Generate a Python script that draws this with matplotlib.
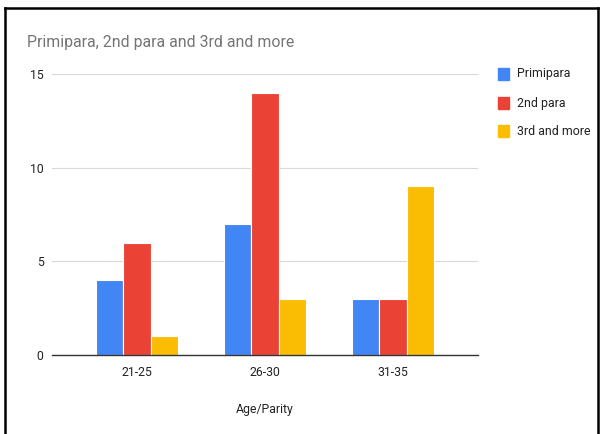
import matplotlib
matplotlib.use("Agg")
import matplotlib.pyplot as plt
from matplotlib.lines import Line2D
import numpy as np

categories = ["21-25", "26-30", "31-35"]
primipara = [4, 7, 3]
second_para = [6, 14, 3]
third_more = [1, 3, 9]
series_names = ["Primipara", "2nd para", "3rd and more"]
colors = ["#4285F4", "#EA4335", "#FBBC04"]
yticks = [0, 5, 10, 15]

plt.rcParams['font.family'] = ['Roboto', 'DejaVu Sans']

W, H = 603, 434
fig = plt.figure(figsize=(W / 100, H / 100), dpi=100)
ax = fig.add_axes([52 / W, 1 - 355 / H, (478 - 52) / W, (355 - 74) / H])

x = np.arange(len(categories))
bw = 0.212
for i, (vals, c) in enumerate(zip([primipara, second_para, third_more], colors)):
    ax.bar(x + (i - 1) * bw, vals, width=bw, color=c, edgecolor="white", linewidth=0.8, zorder=3)

ax.set_xlim(-0.664, 2.664)
ax.set_ylim(0, 15)
ax.set_yticks(yticks)
ax.set_yticklabels([str(t) for t in yticks])
ax.set_xticks(x)
ax.set_xticklabels(categories)
ax.tick_params(axis="both", length=0, labelsize=8.8, colors="#222222")
ax.tick_params(axis="y", pad=6)
ax.tick_params(axis="x", pad=8)
ax.grid(axis="y", color="#d9d9d9", linewidth=0.8, zorder=0)
for s in ["top", "right", "left"]:
    ax.spines[s].set_visible(False)
ax.spines["bottom"].set_color("#333333")
ax.spines["bottom"].set_linewidth(1.0)
ax.spines["bottom"].set_zorder(4)
ax.set_xlabel("Age/Parity", fontsize=8.8, color="#222222", labelpad=17)

fig.text(27 / W, 1 - 42 / H, "Primipara, 2nd para and 3rd and more", fontsize=11.4,
         color="#757575", ha="left", va="center")

ys = [74, 103, 131]
for name, c, y in zip(series_names, colors, ys):
    fig.patches.append(plt.Rectangle((498 / W, 1 - (y + 6) / H), 11 / W, 12 / H,
                                     transform=fig.transFigure, color=c, figure=fig))
    fig.text(517 / W, 1 - y / H, name, fontsize=8.9, color="#222222", ha="left", va="center")

# outer border
fig.add_artist(Line2D([5 / W, 598 / W], [1 - 8 / H, 1 - 8 / H], color="black", linewidth=1.8, transform=fig.transFigure))
fig.add_artist(Line2D([5 / W, 5 / W], [1 - 8 / H, 0], color="black", linewidth=1.8, transform=fig.transFigure))
fig.add_artist(Line2D([598 / W, 598 / W], [1 - 8 / H, 0], color="black", linewidth=1.8, transform=fig.transFigure))

fig.savefig("out.png", dpi=100)
